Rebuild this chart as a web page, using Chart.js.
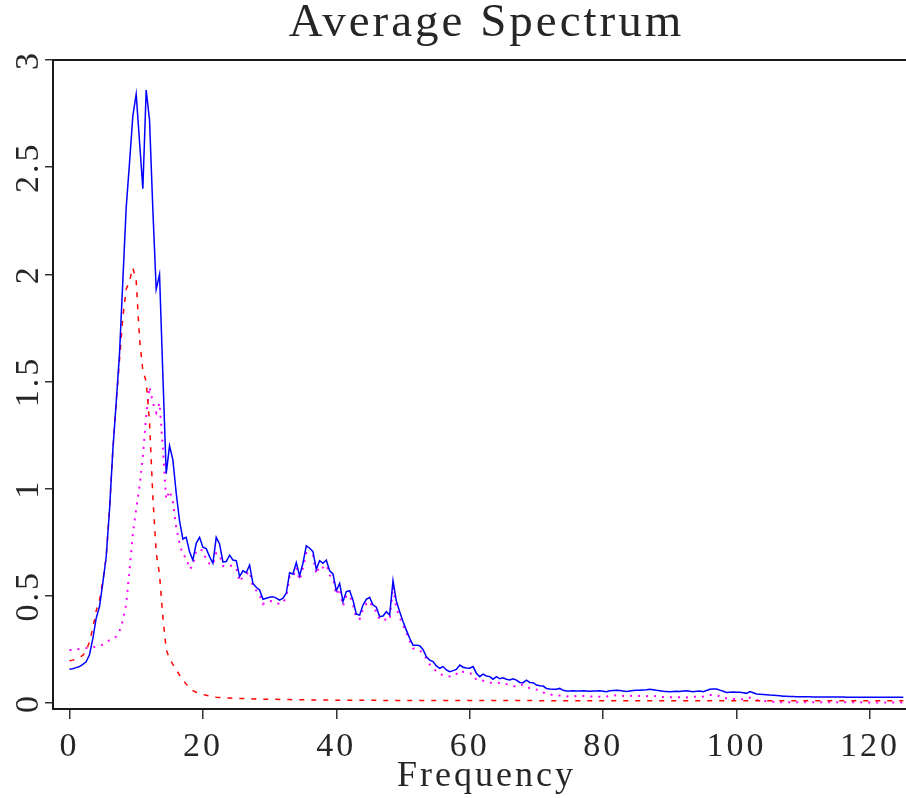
<!DOCTYPE html>
<html>
<head>
<meta charset="utf-8">
<title>Average Spectrum</title>
<script src="https://cdn.jsdelivr.net/npm/chart.js@4.4.1/dist/chart.umd.min.js"></script>
<style>
  html, body { margin: 0; padding: 0; background: #fff; overflow: hidden; }
  #wrap { width: 920px; height: 798px; }
</style>
</head>
<body>
<div id="wrap"><canvas id="spectrumChart" width="920" height="798"></canvas></div>
<script>
// spectra sampled every 0.5 Hz from 0 to 125 Hz
const freqStep = 0.5;

const blueSpectrum = [
  0.157, 0.160, 0.165, 0.170, 0.180, 0.192, 0.225, 0.300, 0.395, 0.450,
  0.560, 0.680, 0.900, 1.180, 1.400, 1.630, 1.970, 2.310, 2.520, 2.740,
  2.840, 2.620, 2.400, 2.860, 2.720, 2.300, 1.930, 2.000, 1.530, 1.070,
  1.200, 1.134, 0.980, 0.850, 0.765, 0.773, 0.705, 0.667, 0.745, 0.773,
  0.727, 0.720, 0.683, 0.652, 0.773, 0.742, 0.658, 0.660, 0.690, 0.667,
  0.664, 0.590, 0.617, 0.608, 0.644, 0.558, 0.540, 0.527, 0.484, 0.489,
  0.493, 0.496, 0.489, 0.480, 0.489, 0.512, 0.608, 0.602, 0.655, 0.593,
  0.652, 0.733, 0.722, 0.706, 0.624, 0.664, 0.652, 0.667, 0.617, 0.602,
  0.524, 0.558, 0.473, 0.520, 0.524, 0.480, 0.415, 0.410, 0.457, 0.484,
  0.493, 0.457, 0.447, 0.403, 0.406, 0.426, 0.410, 0.571, 0.475, 0.426,
  0.380, 0.340, 0.302, 0.270, 0.270, 0.267, 0.250, 0.216, 0.200, 0.193,
  0.173, 0.162, 0.170, 0.154, 0.146, 0.151, 0.157, 0.177, 0.167, 0.163,
  0.162, 0.170, 0.139, 0.123, 0.135, 0.126, 0.123, 0.111, 0.123, 0.113,
  0.118, 0.111, 0.107, 0.113, 0.107, 0.096, 0.095, 0.107, 0.096, 0.095,
  0.084, 0.081, 0.079, 0.068, 0.065, 0.064, 0.064, 0.068, 0.059, 0.056,
  0.056, 0.057, 0.056, 0.056, 0.057, 0.056, 0.055, 0.056, 0.056, 0.057,
  0.055, 0.053, 0.057, 0.058, 0.059, 0.058, 0.056, 0.054, 0.056, 0.058,
  0.059, 0.060, 0.061, 0.062, 0.064, 0.062, 0.059, 0.057, 0.055, 0.054,
  0.053, 0.054, 0.055, 0.054, 0.056, 0.057, 0.055, 0.053, 0.055, 0.056,
  0.053, 0.058, 0.064, 0.065, 0.065, 0.060, 0.055, 0.049, 0.050, 0.051,
  0.050, 0.050, 0.048, 0.045, 0.053, 0.048, 0.042, 0.041, 0.040, 0.039,
  0.037, 0.036, 0.035, 0.034, 0.032, 0.031, 0.030, 0.030, 0.029, 0.029,
  0.029, 0.029, 0.029, 0.028, 0.028, 0.028, 0.028, 0.028, 0.028, 0.028,
  0.028, 0.028, 0.028, 0.027, 0.027, 0.027, 0.027, 0.027, 0.027, 0.027,
  0.027, 0.027, 0.027, 0.027, 0.027, 0.027, 0.027, 0.027, 0.027, 0.027,
  0.027
];

const redSpectrum = [
  0.197, 0.200, 0.206, 0.214, 0.222, 0.245, 0.285, 0.350, 0.430, 0.480,
  0.570, 0.680, 0.900, 1.180, 1.400, 1.600, 1.800, 1.930, 1.970, 2.030,
  1.970, 1.700, 1.550, 1.500, 1.310, 0.960, 0.700, 0.600, 0.400, 0.250,
  0.205, 0.180, 0.156, 0.130, 0.108, 0.088, 0.070, 0.058, 0.050, 0.045,
  0.040, 0.036, 0.032, 0.029, 0.027, 0.026, 0.025, 0.024, 0.023, 0.022,
  0.022, 0.021, 0.021, 0.020, 0.020, 0.019, 0.019, 0.018, 0.018, 0.018,
  0.017, 0.017, 0.017, 0.016, 0.016, 0.016, 0.016, 0.015, 0.015, 0.015,
  0.015, 0.015, 0.014, 0.014, 0.014, 0.014, 0.014, 0.014, 0.013, 0.013,
  0.013, 0.013, 0.013, 0.013, 0.013, 0.013, 0.013, 0.013, 0.013, 0.013,
  0.013, 0.013, 0.013, 0.012, 0.012, 0.012, 0.012, 0.012, 0.012, 0.012,
  0.012, 0.012, 0.012, 0.012, 0.012, 0.012, 0.012, 0.012, 0.012, 0.012,
  0.012, 0.012, 0.012, 0.012, 0.012, 0.012, 0.012, 0.012, 0.012, 0.012,
  0.012, 0.012, 0.012, 0.012, 0.012, 0.012, 0.012, 0.012, 0.012, 0.012,
  0.012, 0.012, 0.012, 0.012, 0.012, 0.012, 0.012, 0.012, 0.012, 0.012,
  0.011, 0.011, 0.011, 0.011, 0.011, 0.011, 0.011, 0.011, 0.011, 0.011,
  0.011, 0.011, 0.011, 0.011, 0.011, 0.011, 0.011, 0.011, 0.011, 0.011,
  0.011, 0.011, 0.011, 0.011, 0.011, 0.011, 0.011, 0.011, 0.011, 0.011,
  0.011, 0.011, 0.011, 0.011, 0.011, 0.011, 0.011, 0.011, 0.011, 0.011,
  0.011, 0.011, 0.011, 0.011, 0.011, 0.011, 0.011, 0.011, 0.011, 0.011,
  0.011, 0.011, 0.011, 0.011, 0.011, 0.011, 0.011, 0.011, 0.011, 0.011,
  0.011, 0.011, 0.011, 0.011, 0.011, 0.011, 0.011, 0.011, 0.011, 0.011,
  0.011, 0.011, 0.011, 0.011, 0.011, 0.011, 0.011, 0.011, 0.011, 0.011,
  0.011, 0.011, 0.011, 0.011, 0.011, 0.011, 0.011, 0.011, 0.011, 0.011,
  0.011, 0.011, 0.011, 0.011, 0.011, 0.011, 0.011, 0.011, 0.011, 0.011,
  0.011, 0.011, 0.011, 0.011, 0.011, 0.011, 0.011, 0.011, 0.011, 0.011,
  0.011
];

const magentaSpectrum = [
  0.247, 0.248, 0.250, 0.252, 0.254, 0.256, 0.258, 0.260, 0.263, 0.267,
  0.272, 0.282, 0.293, 0.300, 0.310, 0.335, 0.385, 0.460, 0.620, 0.790,
  0.905, 1.010, 1.150, 1.340, 1.475, 1.400, 1.355, 1.400, 1.190, 0.950,
  0.990, 0.940, 0.820, 0.745, 0.690, 0.680, 0.625, 0.640, 0.712, 0.715,
  0.712, 0.667, 0.650, 0.644, 0.700, 0.690, 0.640, 0.636, 0.640, 0.640,
  0.630, 0.565, 0.590, 0.600, 0.615, 0.540, 0.525, 0.505, 0.462, 0.470,
  0.475, 0.476, 0.470, 0.460, 0.468, 0.495, 0.590, 0.585, 0.632, 0.572,
  0.630, 0.700, 0.700, 0.690, 0.600, 0.640, 0.632, 0.645, 0.596, 0.582,
  0.505, 0.535, 0.452, 0.500, 0.503, 0.460, 0.396, 0.392, 0.438, 0.463,
  0.475, 0.440, 0.428, 0.387, 0.388, 0.390, 0.387, 0.543, 0.442, 0.400,
  0.364, 0.328, 0.290, 0.255, 0.250, 0.247, 0.230, 0.208, 0.180, 0.162,
  0.148, 0.135, 0.130, 0.126, 0.124, 0.123, 0.135, 0.151, 0.145, 0.139,
  0.138, 0.135, 0.107, 0.106, 0.104, 0.100, 0.095, 0.094, 0.095, 0.093,
  0.092, 0.088, 0.084, 0.080, 0.076, 0.082, 0.087, 0.078, 0.069, 0.066,
  0.063, 0.061, 0.050, 0.042, 0.040, 0.037, 0.036, 0.035, 0.034, 0.031,
  0.029, 0.031, 0.033, 0.033, 0.033, 0.032, 0.031, 0.030, 0.029, 0.029,
  0.027, 0.030, 0.033, 0.035, 0.036, 0.034, 0.033, 0.032, 0.033, 0.034,
  0.034, 0.033, 0.033, 0.032, 0.033, 0.033, 0.031, 0.029, 0.028, 0.027,
  0.027, 0.027, 0.027, 0.027, 0.027, 0.026, 0.028, 0.029, 0.029, 0.028,
  0.030, 0.034, 0.037, 0.037, 0.037, 0.030, 0.022, 0.022, 0.020, 0.019,
  0.018, 0.017, 0.017, 0.021, 0.025, 0.020, 0.014, 0.012, 0.010, 0.008,
  0.007, 0.006, 0.006, 0.004, 0.003, 0.003, 0.003, 0.003, 0.003, 0.003,
  0.003, 0.003, 0.003, 0.003, 0.003, 0.003, 0.003, 0.003, 0.003, 0.003,
  0.003, 0.003, 0.003, 0.003, 0.003, 0.003, 0.003, 0.003, 0.003, 0.003,
  0.002, 0.002, 0.002, 0.002, 0.002, 0.002, 0.002, 0.002, 0.002, 0.002,
  0.002
];

const xTicks = [0, 20, 40, 60, 80, 100, 120];
const yTicks = [0, 0.5, 1, 1.5, 2, 2.5, 3];
const yTickLabels = ['0', '0.5', '1', '1.5', '2', '2.5', '3'];

const FONT = '"Liberation Serif", "DejaVu Serif", serif';
const INK = '#262626';
const SPACING = '3px';

function toPoints(values) {
    return values.map((v, i) => ({ x: i * freqStep, y: v }));
}

// wide letter spacing for all chart text, like the plotter font
const spacingPlugin = {
    id: 'spacing',
    beforeDraw(chart) {
        chart.ctx.letterSpacing = SPACING;
    }
};

// frame on top/left/bottom + rotated y labels
const framePlugin = {
    id: 'frame',
    afterDraw(chart) {
        const { ctx, chartArea: a } = chart;
        const y = chart.scales.y;
        ctx.save();
        ctx.strokeStyle = '#1a1a1a';
        ctx.lineWidth = 2;
        ctx.strokeRect(a.left, a.top, a.right - a.left + 10, a.bottom - a.top);

        ctx.fillStyle = INK;
        ctx.font = '34px ' + FONT;
        ctx.letterSpacing = SPACING;
        ctx.textAlign = 'center';
        ctx.textBaseline = 'alphabetic';
        yTicks.forEach((v, i) => {
            ctx.save();
            ctx.translate(38, y.getPixelForValue(v));
            ctx.rotate(-Math.PI / 2);
            ctx.fillText(yTickLabels[i], 0, 0);
            ctx.restore();
        });
        ctx.restore();
    }
};

const ctx = document.getElementById('spectrumChart').getContext('2d');
new Chart(ctx, {
    type: 'line',
    data: {
        datasets: [
            {
                data: toPoints(blueSpectrum),
                borderColor: '#0000ff',
                borderWidth: 1.5,
                pointRadius: 0,
                tension: 0
            },
            {
                data: toPoints(redSpectrum),
                borderColor: '#ff0000',
                borderWidth: 1.5,
                borderDash: [5, 7],
                pointRadius: 0,
                tension: 0
            },
            {
                data: toPoints(magentaSpectrum),
                borderColor: '#ff00ff',
                borderWidth: 2,
                borderDash: [2, 6],
                pointRadius: 0,
                tension: 0
            }
        ]
    },
    options: {
        responsive: false,
        animation: false,
        devicePixelRatio: 1,
        layout: { padding: 0 },
        plugins: {
            legend: { display: false },
            tooltip: { enabled: false },
            title: {
                display: true,
                text: 'Average Spectrum',
                fullSize: false,
                color: INK,
                font: { family: FONT, size: 47, weight: 'normal', lineHeight: 1 },
                padding: { top: 0, bottom: 13 }
            }
        },
        scales: {
            x: {
                type: 'linear',
                min: -2.47,
                max: 127.5,
                afterBuildTicks: (scale) => { scale.ticks = xTicks.map(v => ({ value: v })); },
                afterFit: (scale) => { scale.height = 89; },
                grid: { drawOnChartArea: false, drawTicks: true, tickLength: 10, color: '#333', lineWidth: 1.5 },
                border: { display: false },
                ticks: {
                    color: INK,
                    padding: 8,
                    maxRotation: 0,
                    font: { family: FONT, size: 34 }
                },
                title: {
                    display: true,
                    text: 'Frequency',
                    color: INK,
                    font: { family: FONT, size: 36 },
                    padding: { top: 0, bottom: 0 }
                }
            },
            y: {
                type: 'linear',
                min: -0.028,
                max: 3,
                afterBuildTicks: (scale) => { scale.ticks = yTicks.map(v => ({ value: v })); },
                afterFit: (scale) => { scale.width = 53; },
                grid: { drawOnChartArea: false, drawTicks: true, tickLength: 8, color: '#333', lineWidth: 1.5 },
                border: { display: false },
                ticks: { display: false }
            }
        }
    },
    plugins: [spacingPlugin, framePlugin]
});
</script>
</body>
</html>
